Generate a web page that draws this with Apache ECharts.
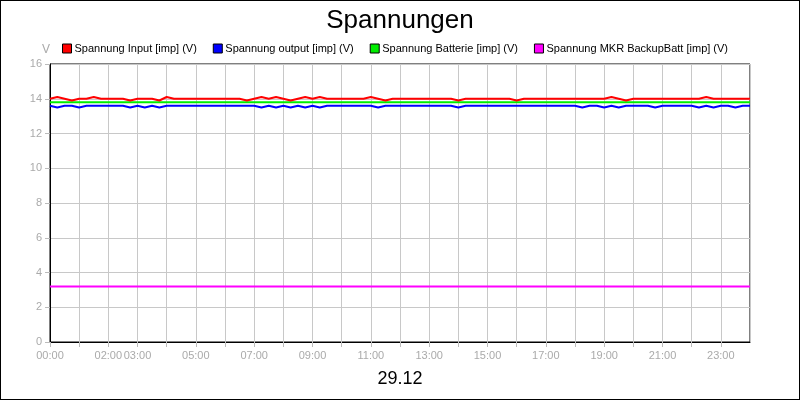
<!DOCTYPE html>
<html><head><meta charset="utf-8">
<script src="https://cdn.jsdelivr.net/npm/echarts@6/dist/echarts.min.js"></script>
<style>html,body{margin:0;padding:0}#c{width:798px;height:398px;border:1px solid #000}</style>
</head><body><div id="c"></div>
<script>
const hours = [0,0.25,0.5,0.75,1,1.25,1.5,1.75,2,2.25,2.5,2.75,3,3.25,3.5,3.75,4,4.25,4.5,4.75,5,5.25,5.5,5.75,6,6.25,6.5,6.75,7,7.25,7.5,7.75,8,8.25,8.5,8.75,9,9.25,9.5,9.75,10,10.25,10.5,10.75,11,11.25,11.5,11.75,12,12.25,12.5,12.75,13,13.25,13.5,13.75,14,14.25,14.5,14.75,15,15.25,15.5,15.75,16,16.25,16.5,16.75,17,17.25,17.5,17.75,18,18.25,18.5,18.75,19,19.25,19.5,19.75,20,20.25,20.5,20.75,21,21.25,21.5,21.75,22,22.25,22.5,22.75,23,23.25,23.5,23.75,24];
const input = [14.0,14.1,14.0,13.9,14.0,14.0,14.1,14.0,14.0,14.0,14.0,13.9,14.0,14.0,14.0,13.9,14.1,14.0,14.0,14.0,14.0,14.0,14.0,14.0,14.0,14.0,14.0,13.9,14.0,14.1,14.0,14.1,14.0,13.9,14.0,14.1,14.0,14.1,14.0,14.0,14.0,14.0,14.0,14.0,14.1,14.0,13.9,14.0,14.0,14.0,14.0,14.0,14.0,14.0,14.0,14.0,13.9,14.0,14.0,14.0,14.0,14.0,14.0,14.0,13.9,14.0,14.0,14.0,14.0,14.0,14.0,14.0,14.0,14.0,14.0,14.0,14.0,14.1,14.0,13.9,14.0,14.0,14.0,14.0,14.0,14.0,14.0,14.0,14.0,14.0,14.1,14.0,14.0,14.0,14.0,14.0,14.0];
const output = [13.6,13.5,13.6,13.6,13.5,13.6,13.6,13.6,13.6,13.6,13.6,13.5,13.6,13.5,13.6,13.5,13.6,13.6,13.6,13.6,13.6,13.6,13.6,13.6,13.6,13.6,13.6,13.6,13.6,13.5,13.6,13.5,13.6,13.5,13.6,13.5,13.6,13.5,13.6,13.6,13.6,13.6,13.6,13.6,13.6,13.5,13.6,13.6,13.6,13.6,13.6,13.6,13.6,13.6,13.6,13.6,13.5,13.6,13.6,13.6,13.6,13.6,13.6,13.6,13.6,13.6,13.6,13.6,13.6,13.6,13.6,13.6,13.6,13.5,13.6,13.6,13.5,13.6,13.5,13.6,13.6,13.6,13.6,13.5,13.6,13.6,13.6,13.6,13.6,13.5,13.6,13.5,13.6,13.6,13.5,13.6,13.6];
const batterie = hours.map(()=>13.8);
const mkr = hours.map(()=>3.2);
const xLabels = {0:'00:00',2:'02:00',3:'03:00',5:'05:00',7:'07:00',9:'09:00',11:'11:00',13:'13:00',15:'15:00',17:'17:00',19:'19:00',21:'21:00',23:'23:00'};
const names = ['Spannung Input [imp] (V)','Spannung output [imp] (V)','Spannung Batterie [imp] (V)','Spannung MKR BackupBatt [imp] (V)'];
const colors = ['#ff0000','#0000ff','#00ee00','#ff00ff'];
const vals = [input,output,batterie,mkr];
const chart = echarts.init(document.getElementById('c'));
const F = 'Liberation Sans, Arial, sans-serif';
chart.setOption({
  animation:false,
  title:{text:'Spannungen',left:'center',top:2,textStyle:{fontSize:26,fontWeight:'normal',color:'#000',fontFamily:F}},
  legend:{top:37,left:56,itemGap:16,itemWidth:9,itemHeight:9,icon:'rect',
    textStyle:{fontSize:11,color:'#000',fontFamily:F,padding:[0,0,0,-2]},
    data:names.map((n,i)=>({name:n,itemStyle:{color:colors[i],borderColor:'#000',borderWidth:1}}))},
  grid:{left:49,right:49,top:63,bottom:57,show:true,borderColor:'#000',borderWidth:1},
  xAxis:{type:'value',min:0,max:24,interval:1,name:'29.12',nameLocation:'middle',nameGap:28,
    nameTextStyle:{fontSize:18,color:'#000',fontFamily:F},
    axisLine:{lineStyle:{color:'#000'}},axisTick:{show:true,lineStyle:{color:'#bbb'}},
    axisLabel:{color:'#aaa',fontSize:11,fontFamily:F,formatter:v=>xLabels[v]||'',showMaxLabel:false},
    splitLine:{show:true,lineStyle:{color:'#c8c8c8'}}},
  yAxis:{type:'value',min:0,max:16,interval:2,name:'V',nameGap:8,nameTextStyle:{color:'#aaa',fontSize:12,align:'right'},
    axisLine:{show:true,lineStyle:{color:'#000'}},axisTick:{show:true,lineStyle:{color:'#bbb'}},
    axisLabel:{color:'#aaa',fontSize:11,fontFamily:F},
    splitLine:{show:true,lineStyle:{color:'#c8c8c8'}}},
  series:vals.map((v,i)=>({name:names[i],type:'line',symbol:'none',z:10-i,
    lineStyle:{color:colors[i],width:2},itemStyle:{color:colors[i]},
    data:hours.map((h,j)=>[h,v[j]])}))
});
</script></body></html>
